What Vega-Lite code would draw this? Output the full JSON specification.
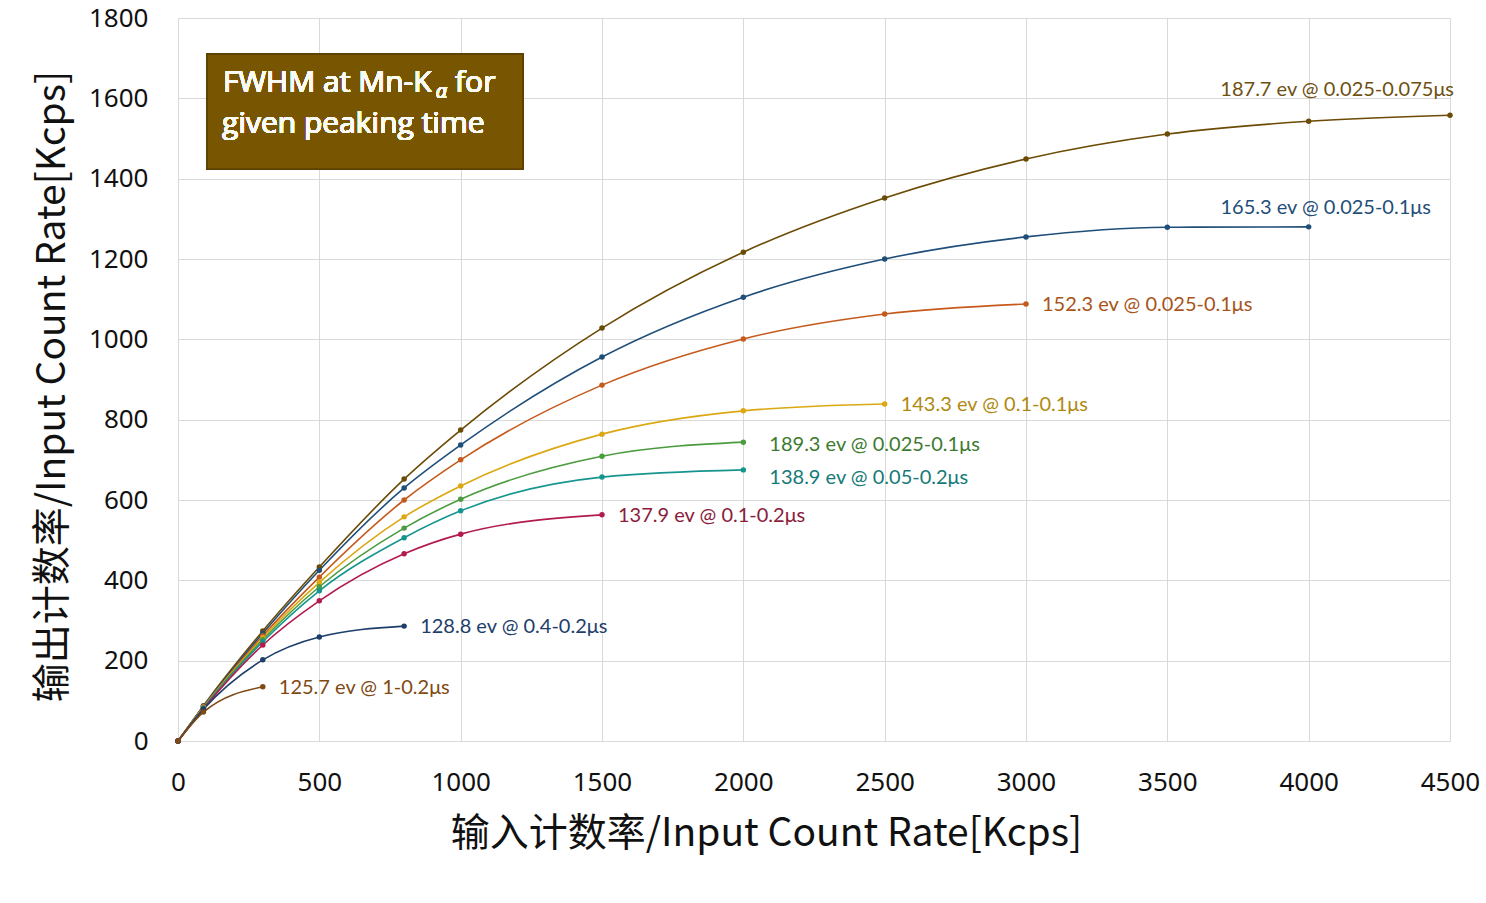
{
  "$schema": "https://vega.github.io/schema/vega-lite/v6.json",
  "autosize": "none",
  "width": 1272,
  "height": 723,
  "padding": {"left": 178, "top": 18, "right": 36, "bottom": 162},
  "background": "white",
  "config": {
    "view": {"stroke": null},
    "axis": {"gridColor": "#d9d9d9", "domainColor": "#d9d9d9", "ticks": false, "labelColor": "#111", "titleColor": "#111", "labelFont": "Noto Sans", "titleFont": "Noto Sans CJK SC", "titleFontWeight": "normal"}
  },
  "datasets": {
    "curves": [
      {"series": "187.7 ev @ 0.025-0.075μs", "x": 0, "y": 0},
      {"series": "187.7 ev @ 0.025-0.075μs", "x": 90, "y": 88},
      {"series": "187.7 ev @ 0.025-0.075μs", "x": 300, "y": 274},
      {"series": "187.7 ev @ 0.025-0.075μs", "x": 500, "y": 433},
      {"series": "187.7 ev @ 0.025-0.075μs", "x": 800, "y": 652},
      {"series": "187.7 ev @ 0.025-0.075μs", "x": 1000, "y": 774},
      {"series": "187.7 ev @ 0.025-0.075μs", "x": 1500, "y": 1028},
      {"series": "187.7 ev @ 0.025-0.075μs", "x": 2000, "y": 1217},
      {"series": "187.7 ev @ 0.025-0.075μs", "x": 2500, "y": 1352},
      {"series": "187.7 ev @ 0.025-0.075μs", "x": 3000, "y": 1449},
      {"series": "187.7 ev @ 0.025-0.075μs", "x": 3500, "y": 1511},
      {"series": "187.7 ev @ 0.025-0.075μs", "x": 4000, "y": 1543},
      {"series": "187.7 ev @ 0.025-0.075μs", "x": 4500, "y": 1558},
      {"series": "165.3 ev @ 0.025-0.1μs", "x": 0, "y": 0},
      {"series": "165.3 ev @ 0.025-0.1μs", "x": 90, "y": 86},
      {"series": "165.3 ev @ 0.025-0.1μs", "x": 300, "y": 268},
      {"series": "165.3 ev @ 0.025-0.1μs", "x": 500, "y": 425},
      {"series": "165.3 ev @ 0.025-0.1μs", "x": 800, "y": 630},
      {"series": "165.3 ev @ 0.025-0.1μs", "x": 1000, "y": 737},
      {"series": "165.3 ev @ 0.025-0.1μs", "x": 1500, "y": 956},
      {"series": "165.3 ev @ 0.025-0.1μs", "x": 2000, "y": 1105},
      {"series": "165.3 ev @ 0.025-0.1μs", "x": 2500, "y": 1200},
      {"series": "165.3 ev @ 0.025-0.1μs", "x": 3000, "y": 1255},
      {"series": "165.3 ev @ 0.025-0.1μs", "x": 3500, "y": 1279},
      {"series": "165.3 ev @ 0.025-0.1μs", "x": 4000, "y": 1280},
      {"series": "152.3 ev @ 0.025-0.1μs", "x": 0, "y": 0},
      {"series": "152.3 ev @ 0.025-0.1μs", "x": 90, "y": 85},
      {"series": "152.3 ev @ 0.025-0.1μs", "x": 300, "y": 262},
      {"series": "152.3 ev @ 0.025-0.1μs", "x": 500, "y": 408},
      {"series": "152.3 ev @ 0.025-0.1μs", "x": 800, "y": 600},
      {"series": "152.3 ev @ 0.025-0.1μs", "x": 1000, "y": 700},
      {"series": "152.3 ev @ 0.025-0.1μs", "x": 1500, "y": 886},
      {"series": "152.3 ev @ 0.025-0.1μs", "x": 2000, "y": 1001},
      {"series": "152.3 ev @ 0.025-0.1μs", "x": 2500, "y": 1063},
      {"series": "152.3 ev @ 0.025-0.1μs", "x": 3000, "y": 1088},
      {"series": "143.3 ev @ 0.1-0.1μs", "x": 0, "y": 0},
      {"series": "143.3 ev @ 0.1-0.1μs", "x": 90, "y": 84},
      {"series": "143.3 ev @ 0.1-0.1μs", "x": 300, "y": 257},
      {"series": "143.3 ev @ 0.1-0.1μs", "x": 500, "y": 395},
      {"series": "143.3 ev @ 0.1-0.1μs", "x": 800, "y": 558},
      {"series": "143.3 ev @ 0.1-0.1μs", "x": 1000, "y": 635},
      {"series": "143.3 ev @ 0.1-0.1μs", "x": 1500, "y": 764},
      {"series": "143.3 ev @ 0.1-0.1μs", "x": 2000, "y": 822},
      {"series": "143.3 ev @ 0.1-0.1μs", "x": 2500, "y": 839},
      {"series": "189.3 ev @ 0.025-0.1μs", "x": 0, "y": 0},
      {"series": "189.3 ev @ 0.025-0.1μs", "x": 90, "y": 83},
      {"series": "189.3 ev @ 0.025-0.1μs", "x": 300, "y": 252},
      {"series": "189.3 ev @ 0.025-0.1μs", "x": 500, "y": 384},
      {"series": "189.3 ev @ 0.025-0.1μs", "x": 800, "y": 530},
      {"series": "189.3 ev @ 0.025-0.1μs", "x": 1000, "y": 602},
      {"series": "189.3 ev @ 0.025-0.1μs", "x": 1500, "y": 709},
      {"series": "189.3 ev @ 0.025-0.1μs", "x": 2000, "y": 744},
      {"series": "138.9 ev @ 0.05-0.2μs", "x": 0, "y": 0},
      {"series": "138.9 ev @ 0.05-0.2μs", "x": 90, "y": 82},
      {"series": "138.9 ev @ 0.05-0.2μs", "x": 300, "y": 247},
      {"series": "138.9 ev @ 0.05-0.2μs", "x": 500, "y": 374},
      {"series": "138.9 ev @ 0.05-0.2μs", "x": 800, "y": 506},
      {"series": "138.9 ev @ 0.05-0.2μs", "x": 1000, "y": 573},
      {"series": "138.9 ev @ 0.05-0.2μs", "x": 1500, "y": 657},
      {"series": "138.9 ev @ 0.05-0.2μs", "x": 2000, "y": 675},
      {"series": "137.9 ev @ 0.1-0.2μs", "x": 0, "y": 0},
      {"series": "137.9 ev @ 0.1-0.2μs", "x": 90, "y": 80},
      {"series": "137.9 ev @ 0.1-0.2μs", "x": 300, "y": 239},
      {"series": "137.9 ev @ 0.1-0.2μs", "x": 500, "y": 349},
      {"series": "137.9 ev @ 0.1-0.2μs", "x": 800, "y": 466},
      {"series": "137.9 ev @ 0.1-0.2μs", "x": 1000, "y": 515},
      {"series": "137.9 ev @ 0.1-0.2μs", "x": 1500, "y": 563},
      {"series": "128.8 ev @ 0.4-0.2μs", "x": 0, "y": 0},
      {"series": "128.8 ev @ 0.4-0.2μs", "x": 90, "y": 79},
      {"series": "128.8 ev @ 0.4-0.2μs", "x": 300, "y": 202},
      {"series": "128.8 ev @ 0.4-0.2μs", "x": 500, "y": 259},
      {"series": "128.8 ev @ 0.4-0.2μs", "x": 800, "y": 286},
      {"series": "125.7 ev @ 1-0.2μs", "x": 0, "y": 0},
      {"series": "125.7 ev @ 1-0.2μs", "x": 90, "y": 72},
      {"series": "125.7 ev @ 1-0.2μs", "x": 300, "y": 135}
    ]
  },
  "data": {"name": "curves"},
  "encoding": {
    "x": {"field": "x", "type": "quantitative", "scale": {"domain": [0, 4500], "nice": false},
      "axis": {"values": [0, 500, 1000, 1500, 2000, 2500, 3000, 3500, 4000, 4500], "format": "d", "labelFontSize": 26, "labelPadding": 28, "labelFlush": false,
        "title": "输入计数率/Input Count Rate[Kcps]", "titleFontSize": 39, "titleX": 588, "titleY": 92, "titleBaseline": "middle", "titleAlign": "center", "titleAnchor": null}},
    "y": {"field": "y", "type": "quantitative", "scale": {"domain": [0, 1800], "nice": false},
      "axis": {"values": [0, 200, 400, 600, 800, 1000, 1200, 1400, 1600, 1800], "format": "d", "labelFontSize": 26, "labelPadding": 30, "labelFlush": false,
        "title": "输出计数率/Input Count Rate[Kcps]", "titleFontSize": 39, "titleX": -126, "titleY": 368, "titleBaseline": "middle", "titleAngle": -90, "titleAlign": "center", "titleAnchor": null}}
  },
  "layer": [
    {
      "mark": {"type": "rect", "fill": "#785500", "stroke": "#5e4200", "strokeWidth": 1.5},
      "encoding": {
        "x": {"datum": 103}, "x2": {"datum": 1220},
        "y": {"datum": 1710}, "y2": {"datum": 1424}
      }
    },
    {
      "mark": {"type": "text", "text": "FWHM at Mn-K", "align": "right", "baseline": "alphabetic", "font": "Open Sans", "fontWeight": 400, "fontSize": 30, "fill": "#fbfbf5"},
      "encoding": {"x": {"datum": 897}, "y": {"datum": 1616}}
    },
    {
      "mark": {"type": "text", "text": "α", "align": "left", "baseline": "alphabetic", "font": "Open Sans", "fontStyle": "italic", "fontWeight": 400, "fontSize": 20, "fill": "#fbfbf5"},
      "encoding": {"x": {"datum": 912}, "y": {"datum": 1601}}
    },
    {
      "mark": {"type": "text", "text": "for", "align": "left", "baseline": "alphabetic", "font": "Open Sans", "fontWeight": 400, "fontSize": 30, "fill": "#fbfbf5"},
      "encoding": {"x": {"datum": 980}, "y": {"datum": 1616}}
    },
    {
      "mark": {"type": "text", "text": "given peaking time", "align": "left", "baseline": "alphabetic", "font": "Open Sans", "fontWeight": 400, "fontSize": 30, "fill": "#fbfbf5"},
      "encoding": {"x": {"datum": 156}, "y": {"datum": 1514}}
    },
    {
      "mark": {"type": "line", "interpolate": "monotone", "strokeWidth": 1.6},
      "encoding": {
        "color": {"field": "series", "type": "nominal", "legend": null,
          "scale": {"domain": ["187.7 ev @ 0.025-0.075μs", "165.3 ev @ 0.025-0.1μs", "152.3 ev @ 0.025-0.1μs", "143.3 ev @ 0.1-0.1μs", "189.3 ev @ 0.025-0.1μs", "138.9 ev @ 0.05-0.2μs", "137.9 ev @ 0.1-0.2μs", "128.8 ev @ 0.4-0.2μs", "125.7 ev @ 1-0.2μs"],
            "range": ["#6b4b05", "#1f4e79", "#c55a1c", "#dba812", "#4b9b3f", "#16958f", "#b31b50", "#1d3e6a", "#7f4a14"]}}
      }
    },
    {
      "mark": {"type": "point", "filled": true, "size": 30, "opacity": 1},
      "encoding": {
        "color": {"field": "series", "type": "nominal", "legend": null}
      }
    },
    {
      "transform": [
        {"joinaggregate": [{"op": "max", "field": "x", "as": "maxx"}], "groupby": ["series"]},
        {"filter": "datum.x === datum.maxx && datum.series === '187.7 ev @ 0.025-0.075μs'"}
      ],
      "mark": {"type": "text", "align": "right", "baseline": "middle", "dx": 4, "dy": -25, "font": "Lato", "fontSize": 20},
      "encoding": {"text": {"field": "series"}, "fill": {"field": "series", "type": "nominal", "legend": null,
        "scale": {"domain": ["187.7 ev @ 0.025-0.075μs", "165.3 ev @ 0.025-0.1μs", "152.3 ev @ 0.025-0.1μs", "143.3 ev @ 0.1-0.1μs", "189.3 ev @ 0.025-0.1μs", "138.9 ev @ 0.05-0.2μs", "137.9 ev @ 0.1-0.2μs", "128.8 ev @ 0.4-0.2μs", "125.7 ev @ 1-0.2μs"],
          "range": ["#6f5010", "#1f4e79", "#a8541a", "#b08a10", "#3d7a30", "#167a78", "#8b1c3c", "#1d3e6a", "#7f4a14"]}}}
    },
    {
      "transform": [
        {"joinaggregate": [{"op": "max", "field": "x", "as": "maxx"}], "groupby": ["series"]},
        {"filter": "datum.x === datum.maxx && datum.series === '165.3 ev @ 0.025-0.1μs'"}
      ],
      "mark": {"type": "text", "align": "center", "baseline": "middle", "dx": 17, "dy": -19, "font": "Lato", "fontSize": 20},
      "encoding": {"text": {"field": "series"}, "fill": {"field": "series", "type": "nominal", "legend": null}}
    },
    {
      "transform": [
        {"joinaggregate": [{"op": "max", "field": "x", "as": "maxx"}], "groupby": ["series"]},
        {"filter": "datum.x === datum.maxx && indexof(['152.3 ev @ 0.025-0.1μs', '143.3 ev @ 0.1-0.1μs', '137.9 ev @ 0.1-0.2μs', '128.8 ev @ 0.4-0.2μs', '125.7 ev @ 1-0.2μs'], datum.series) >= 0"}
      ],
      "mark": {"type": "text", "align": "left", "baseline": "middle", "dx": 16, "dy": 1, "font": "Lato", "fontSize": 20},
      "encoding": {"text": {"field": "series"}, "fill": {"field": "series", "type": "nominal", "legend": null}}
    },
    {
      "transform": [
        {"joinaggregate": [{"op": "max", "field": "x", "as": "maxx"}], "groupby": ["series"]},
        {"filter": "datum.x === datum.maxx && datum.series === '189.3 ev @ 0.025-0.1μs'"}
      ],
      "mark": {"type": "text", "align": "left", "baseline": "middle", "dx": 26, "dy": 3, "font": "Lato", "fontSize": 20},
      "encoding": {"text": {"field": "series"}, "fill": {"field": "series", "type": "nominal", "legend": null}}
    },
    {
      "transform": [
        {"joinaggregate": [{"op": "max", "field": "x", "as": "maxx"}], "groupby": ["series"]},
        {"filter": "datum.x === datum.maxx && datum.series === '138.9 ev @ 0.05-0.2μs'"}
      ],
      "mark": {"type": "text", "align": "left", "baseline": "middle", "dx": 26, "dy": 8, "font": "Lato", "fontSize": 20},
      "encoding": {"text": {"field": "series"}, "fill": {"field": "series", "type": "nominal", "legend": null}}
    }
  ]
}
